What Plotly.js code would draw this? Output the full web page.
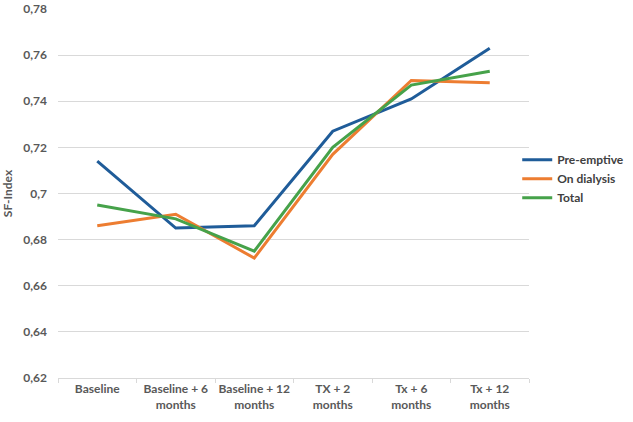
<!DOCTYPE html>
<html>
<head>
<meta charset="utf-8">
<script src="https://cdn.plot.ly/plotly-3.0.1.min.js"></script>
<style>
  html, body { margin: 0; padding: 0; background: #fff; }
  #plot { width: 633px; height: 422px; }
</style>
</head>
<body>
<div id="plot"></div>
<script>
// categories and series
const categories = [
  "Baseline",
  "Baseline + 6<br>months",
  "Baseline + 12<br>months",
  "TX + 2<br>months",
  "Tx + 6<br>months",
  "Tx + 12<br>months"
];
const preEmptive = [0.714, 0.685, 0.686, 0.727, 0.741, 0.763];
const onDialysis = [0.686, 0.691, 0.672, 0.717, 0.749, 0.748];
const total = [0.695, 0.689, 0.675, 0.720, 0.747, 0.753];

const yTickVals = [0.62, 0.64, 0.66, 0.68, 0.7, 0.72, 0.74, 0.76, 0.78];
const yTickText = ["0,62", "0,64", "0,66", "0,68", "0,7", "0,72", "0,74", "0,76", "0,78"];

const textColor = "#595959";
const fontFamily = "Lato, Open Sans, sans-serif";

function series(name, values, color) {
  return {
    x: categories,
    y: values,
    type: "scatter",
    mode: "lines",
    name: name,
    line: { color: color, width: 3 }
  };
}

const data = [
  series("Pre-emptive", preEmptive, "#1f5c99"),
  series("On dialysis", onDialysis, "#ed7d31"),
  series("Total", total, "#46a24a")
];

const layout = {
  width: 633,
  height: 422,
  margin: { l: 58, r: 104, t: 9, b: 44, autoexpand: false },
  paper_bgcolor: "#fff",
  plot_bgcolor: "#fff",
  font: { family: fontFamily, size: 12, color: textColor },
  showlegend: true,
  legend: {
    x: 0.975,
    xanchor: "left",
    y: 0.54,
    yanchor: "middle",
    bgcolor: "rgba(0,0,0,0)",
    font: { size: 12, color: "#404040", weight: "bold" },
    itemwidth: 30,
    tracegroupgap: 0
  },
  xaxis: {
    type: "category",
    showgrid: false,
    showline: true,
    linecolor: "#d9d9d9",
    linewidth: 1,
    ticks: "outside",
    tickson: "boundaries",
    tickcolor: "#d9d9d9",
    ticklen: 4,
    tickangle: 0,
    tickfont: { size: 12, color: textColor, weight: "bold" },
    range: [-0.5, 5.5],
    fixedrange: true
  },
  yaxis: {
    range: [0.62, 0.78],
    tickvals: yTickVals,
    ticktext: yTickText,
    showgrid: true,
    gridcolor: "#d9d9d9",
    gridwidth: 1,
    zeroline: false,
    showline: false,
    ticks: "",
    ticklabelstandoff: 10,
    tickfont: { size: 12, color: textColor, weight: "bold" },
    title: {
      text: "SF-Index",
      font: { size: 12, color: textColor, weight: "bold" },
      standoff: 8
    }
  }
};

Plotly.newPlot("plot", data, layout, { displayModeBar: false, staticPlot: true });
</script>
</body>
</html>
